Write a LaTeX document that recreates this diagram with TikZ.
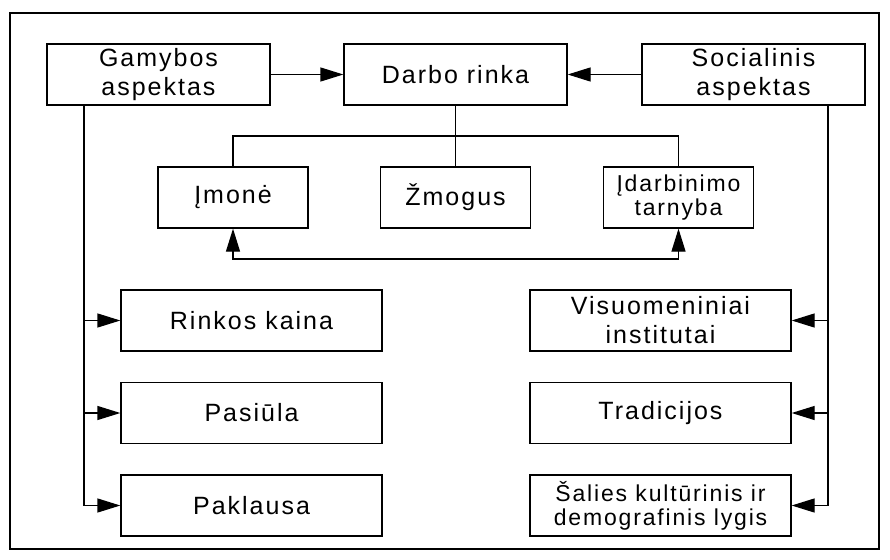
\documentclass[tikz,border=0pt]{standalone}
\usepackage{fontspec}
\setmainfont{Liberation Sans}[LetterSpace=8]
\usetikzlibrary{arrows.meta}
\tikzset{
	box/.style={draw, line width=1.3pt, minimum height=61pt, inner sep=2pt,
			align=center, font=\fontsize{25}{29}\selectfont},
	tight/.style={font=\fontsize{23}{24}\selectfont},
	arr/.style={-{Triangle[length=23pt,width=14pt]}}
}

\begin{document}
\begin{tikzpicture}[x=1pt, y=-1pt, line width=1.3pt]
			% Fix the page and draw the frame
			\useasboundingbox (0,0) rectangle (890,559);
			\draw (10,13) rectangle (879,549);

			% Top row
			\node[box, minimum width=223pt] (gam) at (158.5,74.5) {Gamybos\\aspektas};
			\node[box, minimum width=223pt] (darbo) at (455.5,74.5) {Darbo rinka};
			\node[box, minimum width=223pt] (soc) at (753.5,74.5) {Socialinis\\aspektas};

			% Middle row
			\node[box, minimum width=150pt] (imone) at (233,197.5) {Įmonė};
			\node[box, minimum width=150pt] (zmogus) at (455.5,197.5) {Žmogus};
			\node[box, tight, minimum width=150pt] (idarb) at (678.5,197.5) {Įdarbinimo\\tarnyba};

			% Left column
			\node[box, minimum width=261pt] (rinkos) at (251.5,320.5) {Rinkos kaina};
			\node[box, minimum width=261pt] (pasiula) at (251.5,413) {Pasiūla};
			\node[box, minimum width=261pt] (paklausa) at (251.5,505.5) {Paklausa};

			% Right column
			\node[box, minimum width=261pt] (visuo) at (660.5,320.5) {Visuomeniniai\\institutai};
			\node[box, minimum width=261pt] (trad) at (660.5,413) {Tradicijos};
			\node[box, tight, minimum width=261pt] (salies) at (660.5,505.5) {Šalies kultūrinis ir\\demografinis lygis};

			% Bus points
			\coordinate (bus) at (455.5,136);
			\coordinate (low) at (455.5,259);
			\coordinate (lbus) at (84,505.5);
			\coordinate (rbus) at (828,505.5);

			% Arrows into the labour market
			\draw[arr] (gam) -- (darbo);
			\draw[arr] (soc) -- (darbo);

			% Market splits into the three actors
			\draw (darbo) -- (zmogus);
			\draw (imone.north) |- (bus) -| (idarb.north);
			\draw[arr] (low) -| (imone.south);
			\draw[arr] (low) -| (idarb.south);

			% Side branches
			\foreach \n in {rinkos,pasiula,paklausa}
				\draw[arr] (gam.south -| lbus) |- (\n.west);
			\foreach \n in {visuo,trad,salies}
				\draw[arr] (soc.south -| rbus) |- (\n.east);
		\end{tikzpicture}
\end{document}
